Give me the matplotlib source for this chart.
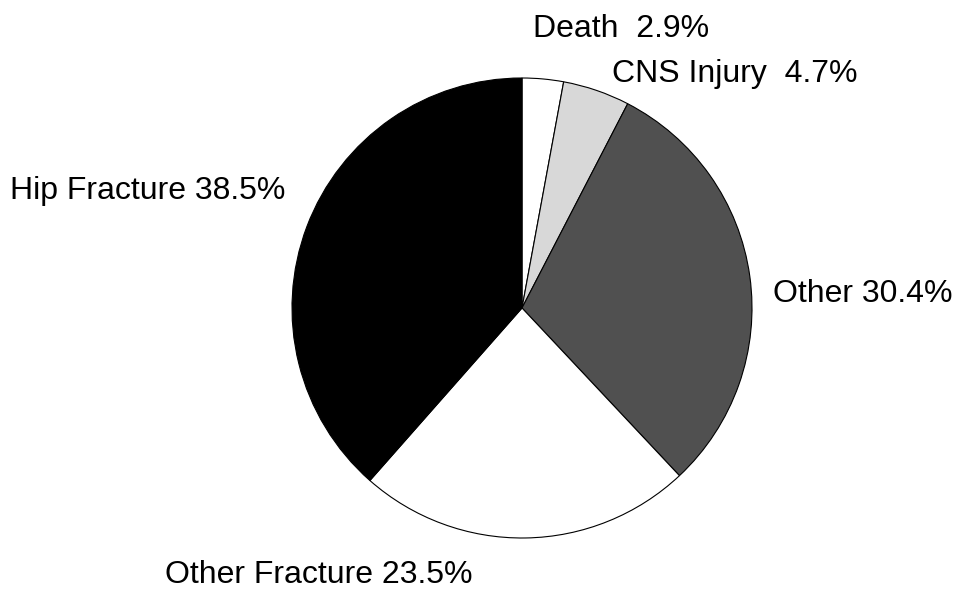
import matplotlib.pyplot as plt

plt.rcParams['font.family'] = ['Liberation Sans', 'DejaVu Sans']

labels = ['Death  2.9%', 'CNS Injury  4.7%', 'Other 30.4%',
          'Other Fracture 23.5%', 'Hip Fracture 38.5%']
values = [2.9, 4.7, 30.4, 23.5, 38.5]
colors = ['#ffffff', '#d8d8d8', '#505050', '#ffffff', '#000000']

# label anchor points in pixels (left, baseline)
label_pos = [(533, 37), (612, 82), (773, 302), (165, 583), (10, 199)]

W, H = 956, 590
fig = plt.figure(figsize=(W / 100, H / 100), dpi=100)
fig.patch.set_facecolor('white')

cx, cy, r = 522, 308, 230
ax = fig.add_axes([(cx - r) / W, (H - cy - r) / H, 2 * r / W, 2 * r / H])
ax.pie(values, colors=colors, startangle=90, counterclock=False,
       wedgeprops=dict(edgecolor='black', linewidth=0.8))
ax.set_xlim(-1, 1)
ax.set_ylim(-1, 1)
ax.set_aspect('equal')
ax.axis('off')

for lab, (px, py) in zip(labels, label_pos):
    fig.text(px / W, 1 - py / H, lab, fontsize=23, ha='left', va='baseline')

plt.savefig('out.png', dpi=100, facecolor=fig.get_facecolor())
